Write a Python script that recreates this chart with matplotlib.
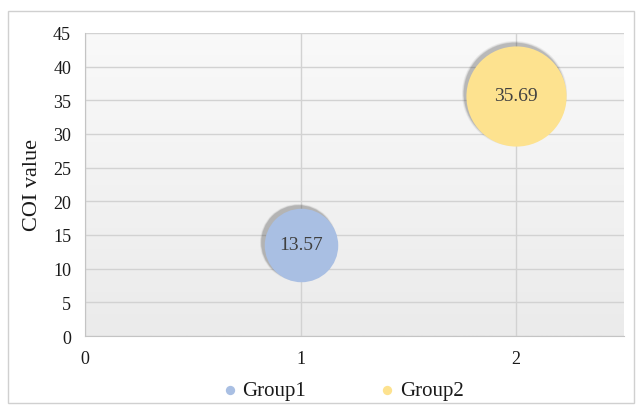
import matplotlib
matplotlib.use("Agg")
import matplotlib.pyplot as plt
import numpy as np
from matplotlib.patches import Rectangle
from matplotlib.colors import LinearSegmentedColormap

groups = ["Group1", "Group2"]
x_vals = [1, 2]
y_vals = [13.57, 35.69]
bubble_sizes = [2800, 5200]
colors = ["#a9bfe3", "#fde28f"]
labels = ["13.57", "35.69"]

plt.rcParams['font.family'] = ['Liberation Serif', 'DejaVu Serif']

fig = plt.figure(figsize=(6.42, 4.06), dpi=100)
fig.patch.set_facecolor("white")
fig.add_artist(Rectangle((8/642, 1-404/406), 626/642, (404-12)/406, transform=fig.transFigure,
                         fill=False, edgecolor="#d0d0d0", linewidth=1))

ax = fig.add_axes([85/642, 1-337/406, (624-85)/642, (337-34)/406])
ax.set_xlim(0, 2.5)
ax.set_ylim(0, 45)
# soft vertical gradient background
cmap = LinearSegmentedColormap.from_list("bg", ["#ebebeb", "#f9f9f9"])
grad = np.linspace(0, 1, 256).reshape(-1, 1)
ax.imshow(grad, extent=[0, 2.5, 0, 45], origin="lower", aspect="auto", cmap=cmap, zorder=0)
ax.set_xticks([0, 1, 2])
ax.set_yticks(range(0, 46, 5))
ax.grid(True, color="#d2d2d2", linewidth=1, zorder=1)
for s in ["top", "right"]:
    ax.spines[s].set_visible(False)
for s in ["left", "bottom"]:
    ax.spines[s].set_color("#c4c4c4")
ax.tick_params(length=0, labelsize=13, pad=10, labelcolor="#1a1a1a")
ax.tick_params(axis='x', pad=10)
ax.set_ylabel("COI value", fontsize=16, labelpad=8, color="#1a1a1a")

# soft shadows
for x, y, s in zip(x_vals, y_vals, bubble_sizes):
    for k, a in [(1.10, 0.08), (1.06, 0.12), (1.03, 0.18)]:
        ax.scatter([x - 0.01], [y + 0.35], s=s * k, color="#404040", alpha=a, linewidths=0, zorder=2)
for g, x, y, s, c, lab in zip(groups, x_vals, y_vals, bubble_sizes, colors, labels):
    ax.scatter([x], [y], s=s, color=c, linewidths=0, zorder=3, label=g)
    ax.text(x, y, lab, ha="center", va="center", fontsize=14, color="#404040", zorder=4)

leg = ax.legend(loc="upper center", bbox_to_anchor=(0.5 - 0.026, -0.085), ncol=2, frameon=False,
                fontsize=15, handletextpad=0.0, columnspacing=3.3, handlelength=1.2)
for t in leg.get_texts():
    t.set_color("#1a1a1a")
for h in leg.legend_handles:
    h.set_sizes([45])

fig.savefig("out.png", dpi=100)
